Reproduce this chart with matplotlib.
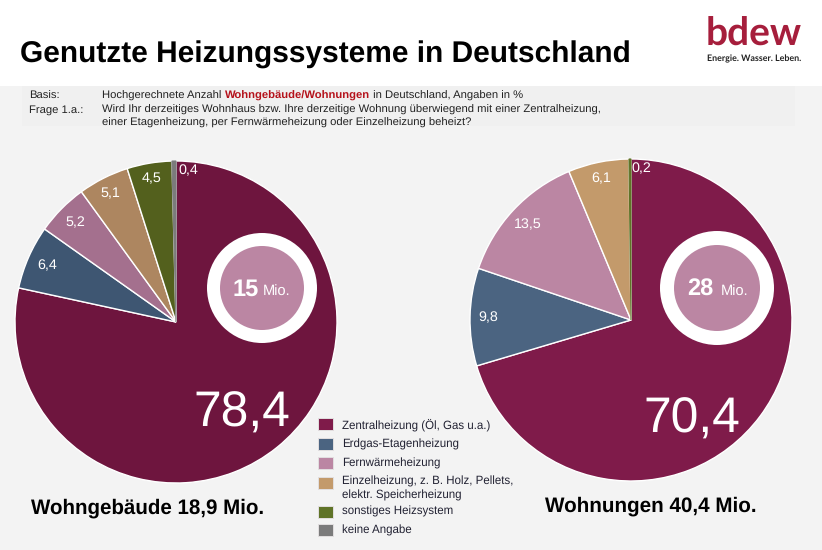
import matplotlib
matplotlib.use('Agg')
import matplotlib.pyplot as plt
from matplotlib.patches import Rectangle, Circle

plt.rcParams['font.family'] = ['Liberation Sans', 'DejaVu Sans']
plt.rcParams['text.hinting'] = 'no_hinting'

# data
categories = ['Zentralheizung (Öl, Gas u.a.)', 'Erdgas-Etagenheizung', 'Fernwärmeheizung',
              'Einzelheizung, z. B. Holz, Pellets,\nelektr. Speicherheizung',
              'sonstiges Heizsystem', 'keine Angabe']
gebaeude = [78.4, 6.4, 5.2, 5.1, 4.5, 0.4]
wohnungen = [70.4, 9.8, 13.5, 6.1, 0.2, 0.0]
colors_left = ['#6e153e', '#3e5672', '#a4708e', '#ad8660', '#53601d', '#7b7b7b']
colors_right = ['#7f1b4a', '#4b6481', '#bb86a3', '#c39a6b', '#5f7327', '#7b7b7b']
legend_colors = ['#7f1b4a', '#4b6481', '#bb86a3', '#c39a6b', '#5f7327', '#7b7b7b']

W, H = 822, 550
BG = '#f3f3f3'
fig = plt.figure(figsize=(W / 100, H / 100), dpi=100, facecolor=BG)


def draw_pie(values, colors, cx, cy, r):
    ax = fig.add_axes([(cx - r) / W, 1 - (cy + r) / H, 2 * r / W, 2 * r / H])
    wedges, _ = ax.pie(values, colors=colors, startangle=90, counterclock=False,
                       wedgeprops=dict(edgecolor='white', linewidth=1.0))
    # the thin slices would vanish under a white edge
    for w, v in zip(wedges, values):
        if v < 1:
            w.set_edgecolor(w.get_facecolor())
            w.set_linewidth(0.8)
            w.set_zorder(5)
    ax.set_xlim(-1, 1)
    ax.set_ylim(-1, 1)
    ax.patch.set_visible(False)


# overlay in pixel coords
bg = fig.add_axes([0, 0, 1, 1], zorder=0)
bg.set_xlim(0, W)
bg.set_ylim(H, 0)
bg.axis('off')
bg.add_patch(Rectangle((0, 0), W, 86, color='white', lw=0))
bg.add_patch(Rectangle((22, 86), 773, 40, color='#f0f0f0', lw=0))

draw_pie(gebaeude, colors_left, 176, 322, 161)
draw_pie(wohnungen[:5], colors_right[:5], 631, 320, 161)

ov = fig.add_axes([0, 0, 1, 1], zorder=5)
ov.set_xlim(0, W)
ov.set_ylim(H, 0)
ov.axis('off')

# title and logo
ov.text(20, 55, 'Genutzte Heizungssysteme in Deutschland', fontsize=21.5, fontweight='bold',
        va='center', color='black')
ov.text(754, 46, 'bdew', fontsize=28, color='#a61e3c', ha='center', va='baseline',
        family=['Lato', 'DejaVu Sans'], fontweight='bold')
ov.text(754, 59, 'Energie. Wasser. Leben.', fontsize=6.4, color='#222222', ha='center',
        va='center', fontweight='bold', family=['Lato', 'DejaVu Sans'])

# question block
hs = 8.15
ov.text(29, 96, 'Basis:', fontsize=hs, va='center', color='#222222')
ov.text(29, 110, 'Frage 1.a.:', fontsize=hs, va='center', color='#222222')
t1 = ov.text(102, 96, 'Hochgerechnete Anzahl ', fontsize=hs, va='center', color='#222222')
t2 = ov.annotate('Wohngebäude/Wohnungen', xy=(1, 0.5), xycoords=t1, va='center', fontsize=hs,
                 fontweight='bold', color='#b5121b')
ov.annotate(' in Deutschland, Angaben in %', xy=(1, 0.5), xycoords=t2, va='center', fontsize=hs,
            color='#222222')
ov.text(102, 110, 'Wird Ihr derzeitiges Wohnhaus bzw. Ihre derzeitige Wohnung überwiegend mit einer Zentralheizung,',
        fontsize=hs, va='center', color='#222222')
ov.text(102, 123, 'einer Etagenheizung, per Fernwärmeheizung oder Einzelheizung beheizt?',
        fontsize=hs, va='center', color='#222222')


def fmt(v):
    return str(v).replace('.', ',')


# value labels
left_pos = [(241.5, 427), (47, 269), (75, 226), (110, 197), (152, 182), (188, 174)]
for v, (x, y) in zip(gebaeude, left_pos):
    ov.text(x, y, fmt(v), color='white', ha='center', va='baseline', fontsize=35.8 if v > 50 else 10.3)
right_pos = [(692, 433), (488, 321), (528, 228), (601, 182), (641, 172)]
for v, (x, y) in zip(wohnungen[:5], right_pos):
    ov.text(x, y, fmt(v), color='white', ha='center', va='baseline', fontsize=35.8 if v > 50 else 10.3)

# circles with totals
for cx, cy, r1, r2, num, numx, mx in [(262, 288, 55, 42, '15', 246, 277), (717, 288, 57, 43, '28', 700, 735)]:
    ov.add_patch(Circle((cx, cy), r1, color='white', lw=0))
    ov.add_patch(Circle((cx, cy), r2, color='#bb86a3', lw=0))
    ov.text(numx, cy + 8, num, color='white', fontweight='bold', fontsize=17, ha='center', va='baseline')
    ov.text(mx, cy + 8, 'Mio.', color='white', fontsize=10.5, ha='center', va='baseline')

# pie captions
ov.text(148, 508, 'Wohngebäude 18,9 Mio.', fontsize=14.8, fontweight='bold', ha='center', va='center')
ov.text(651, 506, 'Wohnungen 40,4 Mio.', fontsize=14.9, fontweight='bold', ha='center', va='center')

# legend
sw_y = [418, 437.5, 457, 477, 506, 524]
txt_y = [424.5, 444.5, 463.5, 488.5, 511.5, 530.5]
for c, label, sy, ty in zip(legend_colors, categories, sw_y, txt_y):
    ov.add_patch(Rectangle((318, sy), 15, 12, facecolor=c, edgecolor='#e2dfe0', lw=0.7))
    ov.text(342, ty, label, fontsize=8.3, va='center', color='#222233', linespacing=1.25)

fig.savefig('out.png', dpi=100, facecolor=BG)
